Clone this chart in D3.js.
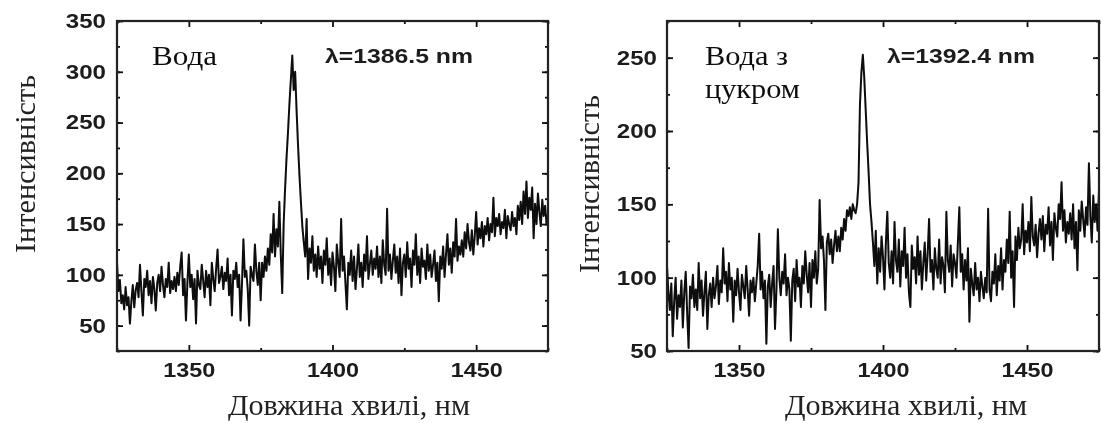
<!DOCTYPE html>
<html>
<head>
<meta charset="utf-8">
<script src="https://cdn.jsdelivr.net/npm/d3@7"></script>
<style>
  body { margin: 0; background: #fff; }
  svg { display: block; }
</style>
</head>
<body>
<div id="chart"></div>
<script>
// wavelength grid, nm (0.5 nm step)
const wavelength = d3.range(0, 301).map(i => 1325 + i * 0.5);

// intensity, 20 points per 10 nm
const waterIntensity = [
  112, 84, 95, 72, 80, 66, 88, 70, 78, 52, 74, 90, 68, 85, 92, 78, 110, 84, 60, 96,
  88, 104, 80, 94, 72, 98, 86, 65, 92, 100, 84, 108, 90, 78, 96, 88, 112, 82, 94, 86,
  98, 84, 102, 90, 108, 122, 80, 96, 55, 92, 120, 88, 100, 76, 96, 52, 104, 90, 86, 110,
  94, 78, 104, 88, 100, 70, 112, 96, 84, 106, 125, 92, 98, 108, 86, 102, 94, 116, 80, 100,
  60, 104, 96, 112, 88, 100, 55, 92, 135, 98, 104, 86, 50, 108, 100, 94, 130, 104, 90, 112,
  75, 112, 98, 118, 104, 126, 110, 140, 122, 160, 118, 145, 128, 172, 120, 82, 150, 185, 215, 240,
  268, 292, 316, 282, 300, 262, 228, 198, 172, 148, 132, 118, 155, 96, 126, 112, 138, 104, 120, 98,
  128, 106, 118, 92, 124, 110, 136, 100, 116, 90, 122, 108, 84, 130, 112, 98, 155, 104, 118, 92,
  66, 112, 100, 124, 94, 118, 86, 106, 130, 98, 112, 88, 120, 104, 138, 96, 110, 124, 100, 116,
  106, 128, 98, 118, 92, 134, 110, 100, 165, 104, 120, 96, 114, 130, 102, 118, 92, 126, 80, 112,
  120, 98, 132, 106, 116, 88, 124, 110, 140, 100, 118, 92, 126, 108, 114, 96, 130, 104, 120, 98,
  110, 124, 94, 112, 74, 118, 106, 128, 98, 120, 140, 110, 126, 102, 132, 118, 155, 114, 128, 120,
  134, 118, 142, 126, 150, 132, 124, 144, 120, 138, 162, 130, 146, 136, 152, 128, 148, 140, 156, 134,
  150, 142, 176, 138, 156, 148, 160, 140, 152, 146, 164, 136, 158, 150, 144, 162, 148, 156, 140, 168,
  154, 172, 150, 182, 160, 192, 156, 176, 164, 186, 136, 170, 150, 180, 162, 148, 174, 158, 168, 150,
  160
];

const sugarIntensity = [
  108, 90, 78, 96, 60, 84, 100, 72, 88, 80, 98, 66, 90, 104, 76, 52, 94, 86, 102, 80,
  92, 78, 110, 86, 98, 74, 90, 104, 65, 88, 96, 80, 100, 86, 94, 108, 82, 98, 90, 120,
  96, 104, 84, 110, 92, 100, 70, 98, 88, 106, 90, 78, 102, 94, 86, 108, 92, 74, 98, 90,
  100, 84, 96, 108, 130, 92, 104, 86, 98, 55, 94, 102, 80, 96, 108, 65, 92, 133, 100, 88,
  104, 96, 116, 88, 100, 92, 57, 98, 106, 84, 112, 94, 100, 80, 108, 96, 118, 102, 90, 110,
  80, 112, 100, 118, 96, 106, 153, 120, 128, 112, 78, 124, 130, 116, 126, 110, 122, 132, 118, 128,
  118, 134, 126, 140, 132, 146, 142, 148, 140, 150, 146, 144, 150, 165, 218, 240, 252, 236, 214, 192,
  172, 150, 138, 124, 108, 132, 96, 120, 104, 128, 114, 92, 124, 145, 110, 100, 118, 96, 138, 112,
  104, 126, 94, 118, 108, 134, 100, 116, 90, 80, 122, 106, 114, 96, 128, 102, 118, 92, 110, 124,
  98, 116, 140, 104, 112, 92, 120, 106, 100, 126, 96, 114, 108, 90, 145, 112, 104, 122, 94, 116,
  110, 100, 124, 148, 104, 116, 92, 112, 98, 120, 70, 106, 96, 88, 110, 92, 100, 84, 104, 94,
  86, 100, 90, 147, 92, 84, 104, 96, 116, 88, 108, 98, 120, 92, 112, 104, 126, 110, 145, 100,
  118, 80, 128, 112, 134, 120, 126, 150, 116, 132, 124, 138, 118, 155, 128, 122, 136, 114, 130, 140,
  126, 142, 118, 136, 130, 148, 122, 138, 112, 144, 134, 128, 150, 140, 165, 132, 146, 124, 138, 130,
  144, 126, 150, 120, 138, 105, 146, 132, 152, 140, 128, 148, 136, 178, 142, 124, 156, 138, 150, 132,
  160
];

const xTicks = [1350, 1400, 1450];
const xMinorTicks = [1325, 1375, 1425, 1475];
const waterYTicks = [50, 100, 150, 200, 250, 300, 350];
const sugarYTicks = [50, 100, 150, 200, 250];

const width = 1101;
const height = 423;

const svg = d3.select("#chart")
  .append("svg")
  .attr("width", width)
  .attr("height", height);

// the original is a soft, upscaled scan
const defs = svg.append("defs");
defs.append("filter").attr("id", "soft")
  .append("feGaussianBlur").attr("stdDeviation", 0.45);

const root = svg.append("g").attr("filter", "url(#soft)");

function drawPanel(p) {
  const x = d3.scaleLinear().domain([1325, 1475]).range([p.left, p.right]);
  const y = d3.scaleLinear().domain(p.yDomain).range([p.bottom, p.top]);

  const yMinor = d3.range(p.yDomain[0], p.yDomain[1] + 1, 25);
  const g = root.append("g");

  // minor ticks, all four sides (pointing inward)
  g.append("g").attr("transform", `translate(0,${p.bottom})`)
    .call(d3.axisBottom(x).tickValues(xMinorTicks).tickSize(-3).tickFormat(""));
  g.append("g").attr("transform", `translate(0,${p.top})`)
    .call(d3.axisTop(x).tickValues(xMinorTicks).tickSize(-3).tickFormat(""));
  g.append("g").attr("transform", `translate(${p.left},0)`)
    .call(d3.axisLeft(y).tickValues(yMinor).tickSize(-3).tickFormat(""));
  g.append("g").attr("transform", `translate(${p.right},0)`)
    .call(d3.axisRight(y).tickValues(yMinor).tickSize(-3).tickFormat(""));

  // major ticks with labels
  const xAxis = g.append("g").attr("transform", `translate(0,${p.bottom})`)
    .call(d3.axisBottom(x).tickValues(xTicks).tickSize(-6).tickPadding(12)
      .tickFormat(d3.format("d")));
  xAxis.selectAll("text")
    .attr("textLength", 52).attr("lengthAdjust", "spacingAndGlyphs");

  g.append("g").attr("transform", `translate(0,${p.top})`)
    .call(d3.axisTop(x).tickValues(xTicks).tickSize(-6).tickFormat(""));

  const yAxis = g.append("g").attr("transform", `translate(${p.left},0)`)
    .call(d3.axisLeft(y).tickValues(p.yTicks).tickSize(-6).tickPadding(p.yPad)
      .tickFormat(d3.format("d")));
  yAxis.selectAll("text")
    .attr("textLength", d => String(d).length * 13.4)
    .attr("lengthAdjust", "spacingAndGlyphs");

  g.append("g").attr("transform", `translate(${p.right},0)`)
    .call(d3.axisRight(y).tickValues(p.yTicks).tickSize(-6).tickFormat(""));

  g.selectAll(".domain").remove();
  g.selectAll(".tick line").attr("stroke", "#111").attr("stroke-width", 1.8);
  g.selectAll(".tick text")
    .attr("font-family", "'Liberation Sans', Arial, sans-serif")
    .attr("font-weight", "bold")
    .attr("font-size", 20)
    .attr("fill", "#1a1a1a");

  // spectrum
  const line = d3.line()
    .x((d, i) => x(wavelength[i]))
    .y(d => y(d));

  g.append("path")
    .datum(p.values)
    .attr("fill", "none")
    .attr("stroke", "#0a0a0a")
    .attr("stroke-width", 2)
    .attr("stroke-linejoin", "round")
    .attr("d", line);

  // frame
  g.append("rect")
    .attr("x", p.left).attr("y", p.top)
    .attr("width", p.right - p.left).attr("height", p.bottom - p.top)
    .attr("fill", "none").attr("stroke", "#222").attr("stroke-width", 2.2);

  // sample name
  p.name.forEach((t, i) => {
    g.append("text")
      .attr("x", p.nameX).attr("y", p.nameY[i])
      .attr("font-family", "'Liberation Serif', 'Times New Roman', serif")
      .attr("font-size", 28)
      .attr("textLength", p.nameLen[i]).attr("lengthAdjust", "spacingAndGlyphs")
      .attr("fill", "#111")
      .text(t);
  });

  // peak wavelength
  g.append("text")
    .attr("x", p.lambdaX).attr("y", 63)
    .attr("font-family", "'Liberation Sans', Arial, sans-serif")
    .attr("font-weight", "bold")
    .attr("font-size", 20)
    .attr("textLength", 148).attr("lengthAdjust", "spacingAndGlyphs")
    .attr("fill", "#1a1a1a")
    .text(p.lambda);

  // axis titles
  g.append("text")
    .attr("x", p.xTitleX).attr("y", 415)
    .attr("font-family", "'Liberation Serif', 'Times New Roman', serif")
    .attr("font-size", 29)
    .attr("textLength", 242).attr("lengthAdjust", "spacingAndGlyphs")
    .attr("fill", "#222")
    .text("Довжина хвилі, нм");

  g.append("text")
    .attr("transform", `translate(${p.yTitleX},${p.yTitleY}) rotate(-90)`)
    .attr("font-family", "'Liberation Serif', 'Times New Roman', serif")
    .attr("font-size", 29)
    .attr("textLength", 178).attr("lengthAdjust", "spacingAndGlyphs")
    .attr("fill", "#222")
    .text("Інтенсивність");
}

drawPanel({
  left: 117, right: 548, top: 21, bottom: 351,
  yDomain: [25, 350], yTicks: waterYTicks, yPad: 11,
  values: waterIntensity,
  name: ["Вода"], nameX: 152, nameY: [65], nameLen: [65],
  lambda: "λ=1386.5 nm", lambdaX: 325,
  xTitleX: 228, yTitleX: 35, yTitleY: 253
});

drawPanel({
  left: 667, right: 1099, top: 21, bottom: 351,
  yDomain: [50, 275], yTicks: sugarYTicks, yPad: 10,
  values: sugarIntensity,
  name: ["Вода з", "цукром"], nameX: 705, nameY: [65, 98], nameLen: [83, 95],
  lambda: "λ=1392.4 nm", lambdaX: 887,
  xTitleX: 785, yTitleX: 599, yTitleY: 273
});
</script>
</body>
</html>
